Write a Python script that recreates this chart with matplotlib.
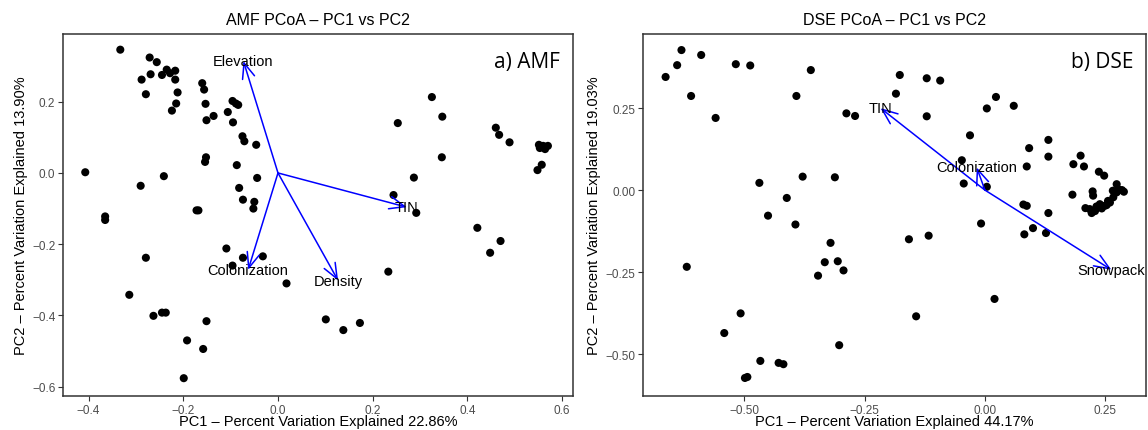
import matplotlib
matplotlib.use("Agg")
import matplotlib.pyplot as plt

plt.rcParams['font.family'] = ['Liberation Sans', 'DejaVu Sans']

# ---------------- AMF data ----------------
amf_x = [-0.333, -0.271, -0.256, -0.288, -0.269, -0.245, -0.235, -0.228, -0.217, -0.217,
         -0.279, -0.212, -0.215, -0.224, -0.160, -0.156, -0.153, -0.151, -0.136, -0.096,
         -0.089, -0.084, -0.106, -0.095, -0.075, -0.071, -0.046, -0.152, -0.154, -0.087,
         -0.407, -0.241, -0.290, -0.044, -0.082, -0.074, -0.050, -0.052, -0.172, -0.168,
         -0.365, -0.365, -0.109, -0.279, -0.074, -0.032, -0.096, 0.018, -0.314, -0.263,
         -0.245, -0.237, -0.151, -0.192, -0.158, -0.199, 0.325, 0.253, 0.347, 0.460,
         0.467, 0.489, 0.551, 0.560, 0.570, 0.553, 0.564, 0.557, 0.548, 0.346,
         0.287, 0.244, 0.292, 0.421, 0.470, 0.448, 0.233, 0.101, 0.138, 0.173]
amf_y = [0.346, 0.324, 0.311, 0.262, 0.277, 0.275, 0.290, 0.280, 0.287, 0.262,
         0.221, 0.226, 0.195, 0.175, 0.252, 0.234, 0.194, 0.148, 0.160, 0.202,
         0.195, 0.191, 0.171, 0.142, 0.103, 0.089, 0.079, 0.044, 0.031, 0.022,
         0.002, -0.009, -0.036, -0.014, -0.042, -0.075, -0.081, -0.100, -0.105, -0.105,
         -0.122, -0.132, -0.212, -0.238, -0.238, -0.234, -0.260, -0.310, -0.342, -0.401,
         -0.392, -0.392, -0.416, -0.470, -0.494, -0.576, 0.213, 0.140, 0.158, 0.127,
         0.107, 0.086, 0.079, 0.076, 0.076, 0.070, 0.067, 0.023, 0.008, 0.044,
         -0.013, -0.062, -0.112, -0.154, -0.191, -0.224, -0.277, -0.411, -0.441, -0.421]
amf_vec_names = ["Elevation", "TIN", "Density", "Colonization"]
amf_vec_x = [-0.073, 0.272, 0.127, -0.063]
amf_vec_y = [0.314, -0.096, -0.302, -0.272]

# ---------------- DSE data ----------------
dse_x = [-0.631, -0.590, -0.640, -0.664, -0.518, -0.488, -0.611, -0.560, -0.362, -0.392,
         -0.288, -0.270, -0.177, -0.185, -0.469, -0.379, -0.312, -0.412, -0.451, -0.394,
         -0.321, -0.333, -0.306, -0.294, -0.347, -0.620, -0.508, -0.542, -0.303, -0.467,
         -0.429, -0.419, -0.499, -0.494, -0.121, -0.093, -0.121, 0.023, 0.004, 0.060,
         -0.031, 0.132, 0.092, 0.132, 0.199, 0.184, 0.206, 0.087, 0.237, 0.248,
         -0.048, -0.044, 0.004, 0.182, 0.224, 0.225, 0.274, 0.266, 0.277, 0.285,
         0.289, 0.080, 0.087, 0.132, 0.209, 0.222, 0.232, 0.243, 0.253, 0.260,
         0.267, 0.274, 0.218, 0.249, 0.256, -0.008, 0.100, 0.082, 0.127, -0.117,
         -0.158, 0.020, -0.143, 0.239, 0.229]
dse_y = [0.427, 0.412, 0.381, 0.345, 0.384, 0.380, 0.287, 0.220, 0.366, 0.287,
         0.234, 0.226, 0.351, 0.294, 0.022, 0.041, 0.039, -0.024, -0.078, -0.105,
         -0.161, -0.220, -0.217, -0.245, -0.261, -0.234, -0.376, -0.436, -0.473, -0.521,
         -0.527, -0.531, -0.573, -0.570, 0.341, 0.334, 0.225, 0.284, 0.249, 0.257,
         0.167, 0.153, 0.128, 0.102, 0.105, 0.079, 0.072, 0.072, 0.056, 0.044,
         0.091, 0.020, 0.010, -0.014, -0.004, -0.017, 0.018, -0.002, 0.003, 0.000,
         -0.005, -0.044, -0.048, -0.070, -0.055, -0.070, -0.050, -0.056, -0.046, -0.038,
         -0.022, -0.007, -0.058, -0.048, -0.033, -0.102, -0.116, -0.135, -0.131, -0.139,
         -0.150, -0.332, -0.385, -0.043, -0.064]
dse_vec_names = ["TIN", "Colonization", "Snowpack"]
dse_vec_x = [-0.217, -0.017, 0.263]
dse_vec_y = [0.250, 0.069, -0.243]

amf_xticks = [-0.4, -0.2, 0.0, 0.2, 0.4, 0.6]
amf_xticklabels = ["\u22120.4", "\u22120.2", "0.0", "0.2", "0.4", "0.6"]
amf_yticks = [-0.6, -0.4, -0.2, 0.0, 0.2]
amf_yticklabels = ["\u22120.6", "\u22120.4", "\u22120.2", "0.0", "0.2"]
dse_xticks = [-0.50, -0.25, 0.00, 0.25]
dse_xticklabels = ["\u22120.50", "\u22120.25", "0.00", "0.25"]
dse_yticks = [-0.50, -0.25, 0.00, 0.25]
dse_yticklabels = ["\u22120.50", "\u22120.25", "0.00", "0.25"]

W, H = 1148, 431
fig = plt.figure(figsize=(W / 100, H / 100), dpi=100)
ax1 = fig.add_axes([63 / W, 1 - 397 / H, 510 / W, 362 / H])
ax2 = fig.add_axes([643 / W, 1 - 397 / H, 503 / W, 362 / H])


def style(ax, xt, xtl, yt, ytl, xlim, ylim, title, xlabel, ylabel, tag):
    ax.set_xlim(*xlim)
    ax.set_ylim(*ylim)
    ax.set_xticks(xt)
    ax.set_xticklabels(xtl)
    ax.set_yticks(yt)
    ax.set_yticklabels(ytl)
    for s in ax.spines.values():
        s.set_color("#333333")
        s.set_linewidth(1.1)
    ax.tick_params(direction="out", length=3.5, width=0.8, color="#333333",
                   labelcolor="#4D4D4D", labelsize=8.5, pad=2)
    ax.set_title(title, fontsize=11.5, pad=7, color="black")
    ax.set_xlabel(xlabel, fontsize=10.5, labelpad=-1)
    ax.set_ylabel(ylabel, fontsize=10.5, labelpad=3)
    ax.text(0.975, 0.925, tag, transform=ax.transAxes, ha="right", va="center",
            fontsize=15, family=["Open Sans", "DejaVu Sans"])


def draw(ax, px, py, vn, vx, vy):
    ax.scatter(px, py, s=34, color="black", edgecolors="none", zorder=3)
    for n, x, y in zip(vn, vx, vy):
        ax.annotate("", xy=(x, y), xytext=(0, 0),
                    arrowprops=dict(arrowstyle="->,head_length=1.1,head_width=0.45",
                                    color="blue", lw=1.1, mutation_scale=10,
                                    shrinkA=0, shrinkB=0), zorder=4)
        ax.text(x, y, n, ha="center", va="center", fontsize=10.5, color="black", zorder=5)


draw(ax1, amf_x, amf_y, amf_vec_names, amf_vec_x, amf_vec_y)
style(ax1, amf_xticks, amf_xticklabels, amf_yticks, amf_yticklabels,
      (-0.454, 0.623), (-0.626, 0.390), "AMF PCoA \u2013 PC1 vs PC2",
      "PC1 \u2013 Percent Variation Explained 22.86%",
      "PC2 \u2013 Percent Variation Explained 13.90%", "a) AMF")

draw(ax2, dse_x, dse_y, dse_vec_names, dse_vec_x, dse_vec_y)
style(ax2, dse_xticks, dse_xticklabels, dse_yticks, dse_yticklabels,
      (-0.711, 0.335), (-0.628, 0.476), "DSE PCoA \u2013 PC1 vs PC2",
      "PC1 \u2013 Percent Variation Explained 44.17%",
      "PC2 \u2013 Percent Variation Explained 19.03%", "b) DSE")

fig.savefig("out.png", dpi=100)
